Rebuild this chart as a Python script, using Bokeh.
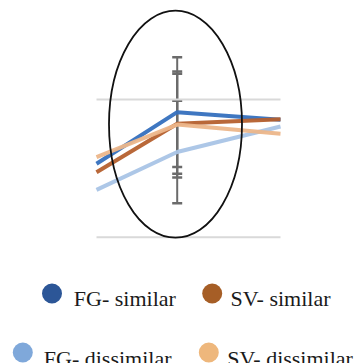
from bokeh.plotting import figure
from bokeh.models import Range1d, ColumnDataSource, Whisker, TeeHead
from bokeh.core.properties import value
from bokeh.embed import file_html
from bokeh.resources import INLINE

# ---- data ----
x_pos = [0.0, 1.0, 2.28]          # left crop edge, middle point, right crop edge
series = ["FG- similar", "SV- similar", "FG- dissimilar", "SV- dissimilar"]
fg_similar = [0.533, 0.908, 0.853]
sv_similar = [0.472, 0.824, 0.857]
fg_dissimilar = [0.344, 0.619, 0.804]
sv_dissimilar = [0.581, 0.818, 0.751]
# error bars at the middle point
err_series_mid = [0.908, 0.824, 0.818, 0.619]
err_half = [0.399, 0.363, 0.385, 0.372]
grid_values = [0.0, 1.0]

line_colors = {"FG- similar": "#3570be", "SV- similar": "#b5602e",
               "FG- dissimilar": "#a9c4e6", "SV- dissimilar": "#ecb68a"}
legend_colors = {"FG- similar": "#2c5697", "SV- similar": "#a65e26",
                 "FG- dissimilar": "#7fa8da", "SV- dissimilar": "#eeb77c"}

W, H = 359, 363
X0, XS = 96.0, 80.7      # page px of x=0, px per unit
Y0, YS = 236.7, 137.7    # page px of y=0, px per unit
p = figure(width=W, height=H, output_backend="svg", toolbar_location=None,
           x_range=Range1d(-X0 / XS, (W - X0) / XS),
           y_range=Range1d(-(H - Y0) / YS, Y0 / YS),
           min_border=0, border_fill_color="white", outline_line_color=None)
p.axis.visible = False
p.grid.visible = False

# grid lines
p.segment(x0=[x_pos[0]] * len(grid_values), x1=[x_pos[-1]] * len(grid_values),
          y0=grid_values, y1=grid_values, line_color="#d9d9d9", line_width=2)

vals = {"FG- similar": fg_similar, "SV- similar": sv_similar,
        "FG- dissimilar": fg_dissimilar, "SV- dissimilar": sv_dissimilar}
for name in ["FG- dissimilar", "FG- similar", "SV- similar", "SV- dissimilar"]:
    p.line(x_pos, vals[name], line_color=line_colors[name], line_width=4, line_alpha=0.95)

# error bars
lo = [m - e for m, e in zip(err_series_mid, err_half)]
hi = [m + e for m, e in zip(err_series_mid, err_half)]
esrc = ColumnDataSource(dict(base=[x_pos[1]] * 4, lower=lo, upper=hi))
wh = Whisker(source=esrc, base="base", lower="lower", upper="upper", dimension="height",
             line_color="#6b6b6b", line_width=2,
             upper_head=TeeHead(size=10, line_color="#6b6b6b", line_width=2.5),
             lower_head=TeeHead(size=10, line_color="#6b6b6b", line_width=2.5))
p.add_layout(wh)

# ellipse around the middle point
p.ellipse(x=[(175 - X0) / XS], y=[(Y0 - 123.7) / YS], width=133, height=227,
          width_units="screen", height_units="screen",
          fill_color=None, line_color="#111111", line_width=1.8)

# legend drawn in page pixel coordinates
p.extra_x_ranges = {"px": Range1d(0, W)}
p.extra_y_ranges = {"py": Range1d(H, 0)}
leg_circle_x = [51.5, 211.7, 22.3, 208.3]
leg_circle_y = [293.0, 293.0, 352.0, 352.0]
leg_text_x = [73.3, 230.0, 43.3, 226.7]
leg_text_y = [298.3, 298.3, 357.5, 357.5]
leg_names = ["FG- similar", "SV- similar", "FG- dissimilar", "SV- dissimilar"]
p.scatter(leg_circle_x, leg_circle_y, size=20, marker="circle",
          color=[legend_colors[n] for n in leg_names], line_color=None,
          x_range_name="px", y_range_name="py")
p.text(leg_text_x, leg_text_y, text=leg_names,
       text_font=value("'Liberation Serif', 'Times New Roman', serif"),
       text_font_size="22px", text_color="#1a1a1a", text_baseline="alphabetic",
       text_align="left", x_range_name="px", y_range_name="py")

open("out.html", "w").write(file_html(p, INLINE))
